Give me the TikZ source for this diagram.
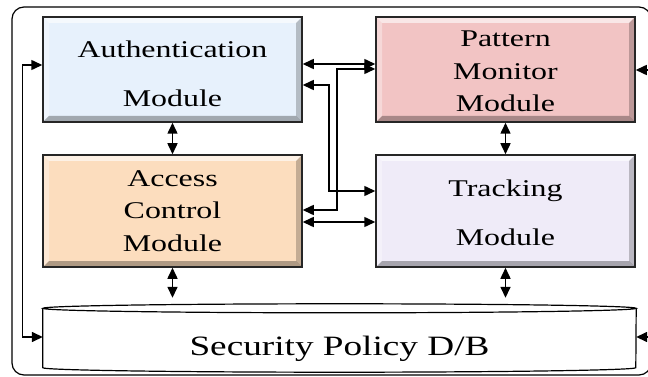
\documentclass[tikz,border=0pt]{standalone}
\usepackage{fontspec}
\newfontfamily\modfont{Liberation Serif}[FakeStretch=1.33]
\usetikzlibrary{arrows.meta}

\definecolor{authblue}{RGB}{231,241,252}
\definecolor{patpink}{RGB}{242,196,196}
\definecolor{accpeach}{RGB}{252,221,190}
\definecolor{trklilac}{RGB}{239,235,248}

\begin{document}
\begin{tikzpicture}[x=1pt,y=-1pt,
	module/.style={draw=black!85,line width=1.5pt,minimum width=259pt,minimum height=105pt,inner sep=0pt,
		align=center,font=\modfont\fontsize{24}{32.5}\selectfont,
		path picture={
			\coordinate (pnw) at (path picture bounding box.north west);
			\coordinate (pne) at (path picture bounding box.north east);
			\coordinate (psw) at (path picture bounding box.south west);
			\coordinate (pse) at (path picture bounding box.south east);
			\fill[white,opacity=.6] (pnw)--(pne)--([shift={(-6pt,-6pt)}]pne)--([shift={(6pt,-6pt)}]pnw)--cycle;
			\fill[white,opacity=.35] (pnw)--([shift={(6pt,-6pt)}]pnw)--([shift={(6pt,6pt)}]psw)--(psw)--cycle;
			\fill[black,opacity=.3] (psw)--([shift={(6pt,6pt)}]psw)--([shift={(-6pt,6pt)}]pse)--(pse)--cycle;
			\fill[black,opacity=.22] (pse)--([shift={(-6pt,6pt)}]pse)--([shift={(-6pt,-6pt)}]pne)--(pne)--cycle;
		}},
	link/.style={line width=1.5pt,{Triangle[length=11pt,width=10pt]}-{Triangle[length=11pt,width=10pt]}}]
	\useasboundingbox (0,0) rectangle (648,377);
	%Рамка
	\draw[line width=1.2pt,rounded corners=12pt] (12,7) rectangle (651,375);
	
	%Модули
	\node[module,fill=authblue] (auth) at (172.5,69.5) {\rule{0pt}{26pt}Authentication\\[16.5pt]Module};
	\node[module,fill=patpink] (pat) at (505.5,69.5) {\rule{0pt}{20pt}Pattern\\Monitor\\Module};
	\node[module,fill=accpeach,minimum height=112pt] (acc) at (172.5,211) {Access\\Control\\Module};
	\node[module,fill=trklilac,minimum height=112pt] (trk) at (505.5,211) {\rule{0pt}{21pt}Tracking\\[16.5pt]Module};
	
	%База данных
	\node[minimum width=593pt,minimum height=68pt,text height=34pt,text depth=0pt,inner sep=0pt,
		font=\modfont\fontsize{28}{34}\selectfont] (db) at (339.5,338) {Security Policy D/B};
	\draw[line width=1.2pt] ([yshift=-4.5pt]db.north west)--([yshift=4.5pt]db.south west)
		arc[start angle=180,end angle=360,x radius=296.5pt,y radius=4.5pt]--([yshift=-4.5pt]db.north east);
	\draw[line width=1.2pt] ([yshift=-4.5pt]db.north) ellipse[x radius=296.5pt,y radius=4.5pt];
	
	%Вертикальные связи
	\draw[link] (auth) -- (acc);
	\draw[link] (pat) -- (trk);
	\draw[link,shorten >=6pt] (acc.south) -- (acc.south |- db.north);
	\draw[link,shorten >=6pt] (trk.south) -- (trk.south |- db.north);
	
	%Связи между колонками
	\draw[link] ([yshift=5.5pt]auth.east) -- ([yshift=5.5pt]pat.west);
	\draw[link] ([yshift=1pt]acc.east) -- ++(34,0) |- ([yshift=0.5pt]pat.west);
	\draw[link] ([yshift=-15.5pt]auth.east) -- ++(26,0) |- ([yshift=20pt]trk.west);
	\draw[link] ([yshift=-11pt]acc.east) -- ([yshift=-11pt]trk.west);
	
	%Боковые связи
	\draw[link] ([yshift=4.5pt]auth.west) -- ++(-20,0) |- ([yshift=1pt]db.west);
	\draw[link] ([yshift=-0.5pt]pat.east) -- ++(17,0) |- ([yshift=1pt]db.east);
\end{tikzpicture}
\end{document}
